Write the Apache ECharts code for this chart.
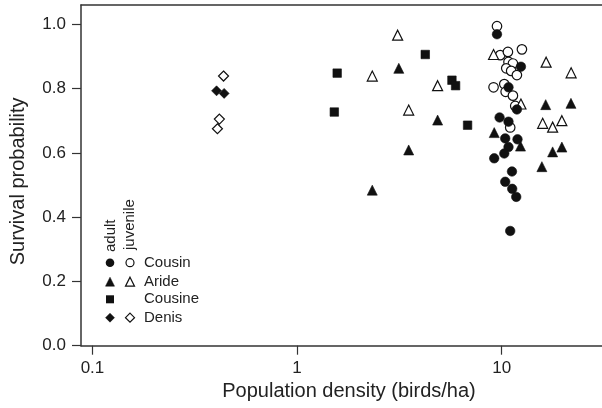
<!DOCTYPE html>
<html>
<head>
<meta charset="utf-8">
<script src="https://cdn.jsdelivr.net/npm/echarts@6/dist/echarts.min.js"></script>
<style>html,body{margin:0;padding:0;background:#fff}#c{width:602px;height:408px}</style>
</head>
<body>
<div id="c"></div>
<script>
// ---- data ----
var xTicks = [0.1, 1, 10];
var yTicks = [0, 0.2, 0.4, 0.6, 0.8, 1.0];

var cousinAdultX = [9.48, 12.41, 10.79, 11.86, 9.76, 10.79, 10.40, 11.94, 10.79, 10.29, 9.19, 11.22, 10.40, 11.25, 11.77, 11.00];
var cousinAdultY = [0.969, 0.868, 0.804, 0.735, 0.710, 0.697, 0.645, 0.642, 0.618, 0.598, 0.583, 0.542, 0.510, 0.488, 0.463, 0.357];

var cousinJuvX = [9.48, 9.83, 10.72, 12.55, 10.79, 11.34, 10.52, 11.12, 11.86, 9.12, 10.29, 10.45, 11.34, 11.64, 11.00];
var cousinJuvY = [0.994, 0.904, 0.914, 0.922, 0.883, 0.878, 0.863, 0.855, 0.842, 0.804, 0.814, 0.790, 0.778, 0.746, 0.679];

var arideAdultX = [2.33, 3.14, 4.86, 3.51, 9.19, 12.35, 16.40, 21.79, 17.73, 19.67, 15.71];
var arideAdultY = [0.484, 0.863, 0.702, 0.609, 0.663, 0.621, 0.750, 0.754, 0.603, 0.618, 0.557];

var arideJuvX = [2.33, 3.10, 4.86, 3.51, 9.12, 12.41, 16.48, 21.83, 15.85, 17.73, 19.67];
var arideJuvY = [0.839, 0.966, 0.809, 0.733, 0.906, 0.752, 0.882, 0.849, 0.692, 0.680, 0.700];

var cousineAdultX = [1.57, 1.52, 4.23, 5.71, 5.95, 6.81];
var cousineAdultY = [0.848, 0.727, 0.906, 0.826, 0.809, 0.686];

var denisAdultX = [0.404, 0.44];
var denisAdultY = [0.793, 0.785];

var denisJuvX = [0.437, 0.417, 0.408];
var denisJuvY = [0.839, 0.705, 0.675];

var legendRows = ['Cousin', 'Aride', 'Cousine', 'Denis'];

// ---- chart ----
function pairs(xs, ys) { return xs.map(function (x, i) { return [x, ys[i]]; }); }
var FONT = 'Liberation Sans, Arial, Helvetica, sans-serif';
var INK = '#111';
var AX = '#333';
var TXT = '#222';

function filled(name, xs, ys, sym, size) {
  return { name: name, type: 'scatter', xAxisIndex: 0, yAxisIndex: 0, symbol: sym, symbolSize: size,
    data: pairs(xs, ys), itemStyle: { color: INK, borderColor: INK, borderWidth: 0.6, opacity: 1 }, z: 3 };
}
function open(name, xs, ys, sym, size) {
  return { name: name, type: 'scatter', xAxisIndex: 0, yAxisIndex: 0, symbol: sym, symbolSize: size,
    data: pairs(xs, ys), itemStyle: { color: '#fff', borderColor: INK, borderWidth: 1.2, opacity: 1 }, z: 2 };
}

// legend graphics
var lgX1 = 110, lgX2 = 130, lgTX = 144, rowsY = [262.7, 281.7, 299.3, 317.7];
function circ(cx, cy, r, fill) {
  return { type: 'circle', shape: { cx: cx, cy: cy, r: r },
    style: { fill: fill ? INK : '#fff', stroke: INK, lineWidth: fill ? 0 : 1.2 } };
}
function poly(points, fill) {
  return { type: 'polygon', shape: { points: points },
    style: { fill: fill ? INK : '#fff', stroke: INK, lineWidth: fill ? 0.5 : 1.2 } };
}
function tri(cx, cy, s, fill) { return poly([[cx, cy - s / 2], [cx + s / 2, cy + s / 2], [cx - s / 2, cy + s / 2]], fill); }
function dia(cx, cy, s, fill) { return poly([[cx, cy - s / 2], [cx + s / 2, cy], [cx, cy + s / 2], [cx - s / 2, cy]], fill); }
function sq(cx, cy, s) { return { type: 'rect', shape: { x: cx - s / 2, y: cy - s / 2, width: s, height: s }, style: { fill: INK } }; }

var graphics = [
  { type: 'text', x: 111, y: 252, rotation: Math.PI / 2,
    style: { text: 'adult', font: '15px ' + FONT, fill: TXT, textAlign: 'left', textVerticalAlign: 'middle' } },
  { type: 'text', x: 130, y: 250, rotation: Math.PI / 2,
    style: { text: 'juvenile', font: '15px ' + FONT, fill: TXT, textAlign: 'left', textVerticalAlign: 'middle' } },
  circ(lgX1, rowsY[0], 4.3, true), circ(lgX2, rowsY[0], 4.0, false),
  tri(lgX1, rowsY[1], 9, true), tri(lgX2, rowsY[1], 9, false),
  sq(lgX1, rowsY[2], 8),
  dia(lgX1, rowsY[3], 9, true), dia(lgX2, rowsY[3], 9, false)
];
legendRows.forEach(function (t, i) {
  graphics.push({ type: 'text', x: lgTX, y: rowsY[i],
    style: { text: t, font: '15px ' + FONT, fill: TXT, textAlign: 'left', textVerticalAlign: 'middle' } });
});

var chart = echarts.init(document.getElementById('c'), null, { renderer: 'canvas' });
chart.setOption({
  animation: false,
  backgroundColor: '#fff',
  textStyle: { fontFamily: FONT },
  grid: { left: 80, right: 0, top: 5, bottom: 62.3, containLabel: false },
  xAxis: [{
    type: 'log', logBase: 10, min: 0.0879, max: 30.9, position: 'bottom',
    axisLine: { show: true, lineStyle: { color: AX, width: 1.5 } },
    axisTick: { show: true, length: 9, customValues: xTicks, lineStyle: { color: AX, width: 1.2 } },
    axisLabel: { customValues: xTicks, formatter: function (v) { return String(v); },
      fontSize: 17, color: TXT, margin: 14, fontFamily: FONT },
    splitLine: { show: false }, minorTick: { show: false },
    name: 'Population density (birds/ha)', nameLocation: 'middle', nameGap: 35,
    nameTextStyle: { fontSize: 20, color: TXT, fontFamily: FONT, padding: [0, 0, 0, 15] }
  }, {
    type: 'value', position: 'top', min: 0, max: 1,
    axisLine: { show: true, lineStyle: { color: AX, width: 1.5 } },
    axisTick: { show: false }, axisLabel: { show: false }, splitLine: { show: false }
  }],
  yAxis: {
    type: 'value', min: 0, max: 1.06,
    axisLine: { show: true, lineStyle: { color: AX, width: 1.5 } },
    axisTick: { show: true, length: 9, customValues: yTicks, lineStyle: { color: AX, width: 1.2 } },
    axisLabel: { customValues: yTicks, formatter: function (v) { return v.toFixed(1); },
      fontSize: 17, color: TXT, margin: 15, fontFamily: FONT },
    splitLine: { show: false },
    name: 'Survival probability', nameLocation: 'middle', nameGap: 53, nameRotate: 90,
    nameTextStyle: { fontSize: 20, color: TXT, fontFamily: FONT, padding: [0, 12, 0, 0] }
  },
  series: [
    open('Cousin juvenile', cousinJuvX, cousinJuvY, 'circle', 9.5),
    open('Aride juvenile', arideJuvX, arideJuvY, 'triangle', 10),
    open('Denis juvenile', denisJuvX, denisJuvY, 'diamond', 10),
    filled('Cousin adult', cousinAdultX, cousinAdultY, 'circle', 9.5),
    filled('Aride adult', arideAdultX, arideAdultY, 'triangle', 10),
    filled('Cousine adult', cousineAdultX, cousineAdultY, 'rect', 8.5),
    filled('Denis adult', denisAdultX, denisAdultY, 'diamond', 10)
  ],
  graphic: graphics
});
</script>
</body>
</html>
